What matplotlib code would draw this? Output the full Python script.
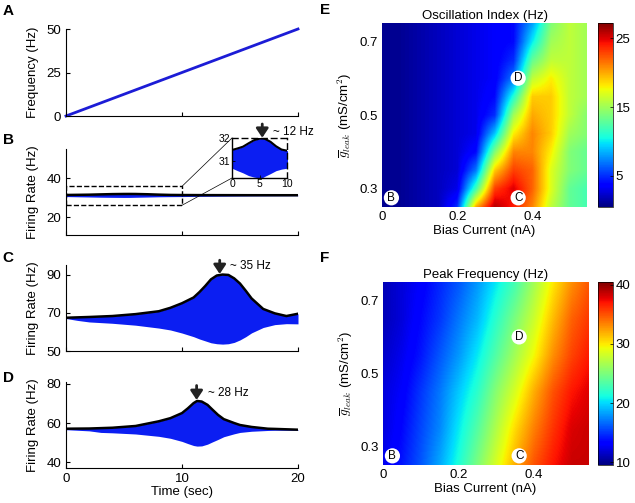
import numpy as np
import matplotlib
matplotlib.use('Agg')
import matplotlib.pyplot as plt
from matplotlib.patches import ConnectionPatch

plt.rcParams['font.family'] = ['Liberation Sans', 'DejaVu Sans']
plt.rcParams['mathtext.fontset'] = 'cm'

# ---- panel A: stimulus frequency sweep
a_time = [0, 20]
a_freq = [0, 50]

# ---- panel B: firing rate envelope (small oscillation, ~12 Hz peak)
b_time = [0, 1, 2, 3, 4, 5, 5.5, 6, 7, 8, 9, 10, 12, 14, 16, 18, 20]
b_upper = [31.48, 31.55, 31.63, 31.78, 31.92, 31.99, 32.0, 31.98, 31.85, 31.65,
           31.5, 31.45, 31.4, 31.38, 31.36, 31.35, 31.35]
b_lower = [30.66, 30.55, 30.45, 30.33, 30.26, 30.22, 30.23, 30.3, 30.42, 30.55,
           30.62, 30.66, 30.8, 30.9, 31.0, 31.05, 31.1]

# ---- panel C
c_time = [0, 1, 2, 4, 6, 8, 9, 10, 11, 11.5, 12, 12.5, 13, 13.5, 14, 14.5, 15,
          15.5, 16, 17, 18, 19, 20]
c_upper = [67.4, 67.6, 67.8, 68.3, 69.3, 70.8, 72.6, 75.0, 78.0, 80.8, 84.0,
           87.5, 89.5, 90.0, 89.8, 88.0, 85.3, 81.5, 77.5, 72.0, 69.7, 68.3, 69.5]
c_lower = [67.0, 66.0, 65.2, 64.5, 63.5, 62.0, 61.0, 59.4, 57.5, 56.3, 55.3,
           54.3, 53.8, 53.6, 53.8, 54.5, 55.8, 57.5, 59.5, 62.3, 63.8, 64.3, 64.2]

# ---- panel D
d_time = [0, 2, 3, 4, 6, 8, 9, 10, 10.5, 11, 11.3, 11.7, 12.2, 12.6, 13.1, 13.6,
          14.5, 15, 16, 17.4, 18, 20]
d_upper = [57.1, 57.2, 57.4, 57.6, 58.5, 60.9, 62.5, 65.1, 67.5, 70.2, 71.3, 71.0,
           69.3, 67.0, 64.2, 62.0, 60.0, 59.0, 58.0, 57.1, 57.0, 56.6]
d_lower = [56.6, 56.0, 55.2, 55.0, 54.4, 53.2, 52.2, 50.6, 49.5, 48.5, 48.2, 48.3,
           49.2, 50.3, 51.6, 53.0, 54.5, 55.2, 55.8, 56.2, 56.3, 56.3]

# ---- panels E/F: parameter maps
bias_current = [0.00, 0.05, 0.10, 0.15, 0.20, 0.25, 0.30, 0.35, 0.40, 0.45, 0.50, 0.55]
g_leak_e = [0.25, 0.30, 0.35, 0.40, 0.45, 0.50, 0.55, 0.60, 0.65, 0.70, 0.75]
osc_index = [
    [1, 1, 1.5, 2, 5, 20, 26, 24, 21, 16, 13, 12],
    [1, 1, 1.5, 2, 3, 12, 23, 25, 22, 17, 13, 12],
    [1, 1, 1.5, 2, 2.5, 7, 19, 23, 22, 17, 14, 13],
    [1, 1, 1.5, 2, 2.5, 4, 14, 21, 21, 18, 14, 13],
    [1, 1, 1.5, 2, 2.5, 3, 9, 18, 21, 19, 15, 14],
    [1, 1, 1.5, 2, 2.5, 3, 5, 15, 20, 19, 16, 14],
    [1, 1, 1.5, 2, 2.5, 3, 4, 11, 19, 19, 16, 15],
    [1, 1, 1.5, 2, 2.5, 3, 3.5, 7, 16, 18, 16, 15],
    [1, 1, 1.5, 2, 2.5, 3, 3.5, 5, 13, 16, 16, 15],
    [1, 1, 1.5, 2, 2.5, 3, 3.5, 4, 10, 15, 16, 15],
    [1, 1, 1.5, 2, 2.5, 3, 3.5, 4, 8, 14, 16, 15],
]
g_leak_f = [0.25, 0.35, 0.45, 0.55, 0.65, 0.75]
peak_freq = [
    [12.5, 14, 16, 18.5, 21.5, 25, 28.5, 32, 35, 37, 38.5, 38.5],
    [12, 13.5, 15.5, 17.5, 20.5, 23.5, 27, 30.5, 33.5, 36, 38, 38.5],
    [12, 13, 15, 17, 19.5, 22, 25.5, 28.5, 32, 35, 37, 38],
    [11.5, 12.5, 14, 16, 18, 20.5, 23.5, 26.5, 29.5, 33, 35.5, 37],
    [11, 12, 13.5, 15, 17, 19, 22, 25, 28, 31.5, 34.5, 36],
    [11, 12, 13, 14.5, 16, 18, 20.5, 23, 26.5, 30, 33, 35],
]
marker_labels = ['B', 'C', 'D']
marker_x = [0.025, 0.362, 0.362]
marker_y = [0.275, 0.275, 0.60]

line_blue = '#1c1cd6'
fill_blue = '#0b1ef2'
FS = 9.5

fig = plt.figure(figsize=(6.35, 5.03), dpi=100)


def px_rect(x0, y0, x1, y1):
    W, H = 635.0, 503.0
    return [x0 / W, 1 - y1 / H, (x1 - x0) / W, (y1 - y0) / H]


def style_trace(ax):
    for s in ['top', 'right']:
        ax.spines[s].set_visible(False)
    ax.tick_params(direction='in', length=3, width=0.8, labelsize=FS)
    ax.set_xlim(0, 20)
    ax.set_xticks([0, 10, 20])
    ax.yaxis.set_label_coords(-0.115, 0.5)


def arrow(ax, x, y_tip, y_tail):
    ax.annotate('', xy=(x, y_tip), xytext=(x, y_tail),
                arrowprops=dict(arrowstyle='-|>,head_length=0.45,head_width=0.3',
                                color='#222222', lw=2, mutation_scale=12,
                                shrinkA=0, shrinkB=0),
                annotation_clip=False)


# A
axA = fig.add_axes(px_rect(66, 29, 298, 116))
axA.plot(a_time, a_freq, color=line_blue, lw=2, clip_on=False)
style_trace(axA)
axA.set_ylim(0, 50)
axA.set_yticks([0, 25, 50])
axA.set_xticklabels([])
axA.set_ylabel('Frequency (Hz)', fontsize=FS)

# B
axB = fig.add_axes(px_rect(66, 149, 298, 235))
axB.fill_between(b_time, b_lower, b_upper, color=fill_blue, lw=0)
axB.plot(b_time, b_upper, color='black', lw=1.8)
axB.plot([0, 10, 10, 0, 0], [26.2, 26.2, 35.9, 35.9, 26.2], 'k--', lw=1)
style_trace(axB)
axB.set_ylim(11, 55)
axB.set_yticks([20, 40])
axB.set_xticklabels([])
axB.set_ylabel('Firing Rate (Hz)', fontsize=FS)

axI = fig.add_axes(px_rect(232, 138, 287, 178))
axI.fill_between(b_time, b_lower, b_upper, color=fill_blue, lw=0)
axI.plot(b_time, b_upper, color='black', lw=1.5)
axI.set_xlim(0, 10)
axI.set_ylim(30.22, 32.02)
axI.set_xticks([0, 5, 10])
axI.set_yticks([31, 32])
axI.tick_params(direction='in', length=2, width=0.6, labelsize=7.5, pad=1)
axI.spines['top'].set_linestyle((0, (4, 3)))
axI.spines['right'].set_linestyle((0, (4, 3)))
for s in axI.spines.values():
    s.set_linewidth(1)
arrow(axI, 5.5, 32.03, 32.65)
axI.text(7.5, 32.3, '~ 12 Hz', fontsize=8.5, va='center', ha='left', clip_on=False)

for (bx, by), (ix, iy) in [((10, 35.9), (0, 1)), ((10, 26.2), (0, 0))]:
    con = ConnectionPatch(xyA=(bx, by), coordsA=axB.transData,
                          xyB=(ix, iy), coordsB=axI.transAxes, color='black', lw=0.5)
    fig.add_artist(con)

# C
axC = fig.add_axes(px_rect(66, 265, 298, 351))
axC.fill_between(c_time, c_lower, c_upper, color=fill_blue, lw=0)
axC.plot(c_time, c_upper, color='black', lw=1.8)
style_trace(axC)
axC.set_ylim(50, 95)
axC.set_yticks([50, 70, 90])
axC.set_xticklabels([])
axC.set_ylabel('Firing Rate (Hz)', fontsize=FS)
arrow(axC, 13.25, 90.3, 97.5)
axC.text(14.1, 94.3, '~ 35 Hz', fontsize=8.5, va='center', ha='left', clip_on=False)

# D
axD = fig.add_axes(px_rect(66, 382, 298, 468))
axD.fill_between(d_time, d_lower, d_upper, color=fill_blue, lw=0)
axD.plot(d_time, d_upper, color='black', lw=1.8)
style_trace(axD)
axD.set_ylim(37, 81)
axD.set_yticks([40, 60, 80])
axD.set_ylabel('Firing Rate (Hz)', fontsize=FS)
axD.set_xlabel('Time (sec)', fontsize=FS, labelpad=1)
arrow(axD, 11.26, 71.8, 79.2)
axD.text(12.2, 75.4, '~ 28 Hz', fontsize=8.5, va='center', ha='left', clip_on=False)


def draw_map(rect, cbar_rect, z, ys, vmin, vmax, cticks, title):
    ax = fig.add_axes(rect)
    dx = bias_current[1] - bias_current[0]
    dy = ys[1] - ys[0]
    im = ax.imshow(np.array(z), origin='lower', cmap='jet', vmin=vmin, vmax=vmax,
                   aspect='auto', interpolation='bilinear', interpolation_stage='data',
                   extent=(bias_current[0] - dx / 2, bias_current[-1] + dx / 2,
                           ys[0] - dy / 2, ys[-1] + dy / 2))
    ax.set_xlim(0, 0.545)
    ax.set_ylim(0.25, 0.75)
    ax.set_xticks([0, 0.2, 0.4])
    ax.set_xticklabels(['0', '0.2', '0.4'])
    ax.set_yticks([0.3, 0.5, 0.7])
    ax.tick_params(length=0, labelsize=FS, pad=3)
    for s in ax.spines.values():
        s.set_visible(False)
    ax.set_xlabel('Bias Current (nA)', fontsize=FS, labelpad=1)
    ax.set_ylabel(r'$\overline{g}_{leak}$ (mS/cm$^{\mathsf{2}}$)', fontsize=FS)
    ax.yaxis.set_label_coords(-0.135, 0.5)
    ax.set_title(title, fontsize=FS, pad=3)
    for lab, mx, my in zip(marker_labels, marker_x, marker_y):
        ax.scatter([mx], [my], s=120, color='white', edgecolors='none', zorder=3)
        ax.text(mx, my, lab, fontsize=8.5, ha='center', va='center', zorder=4)
    cax = fig.add_axes(cbar_rect)
    cb = fig.colorbar(im, cax=cax, ticks=cticks)
    cb.outline.set_linewidth(0.5)
    cax.tick_params(direction='in', length=2, width=0.5, labelsize=FS, pad=2)
    return ax


axE = draw_map(px_rect(382, 23, 587, 207), px_rect(598, 23, 613, 207),
               osc_index, g_leak_e, 0.5, 27.2, [5, 15, 25], 'Oscillation Index (Hz)')
axF = draw_map(px_rect(383, 282, 588, 465), px_rect(598, 282, 613, 465),
               peak_freq, g_leak_f, 9.5, 40.5, [10, 20, 30, 40], 'Peak Frequency (Hz)')

# panel letters
for lab, x, y in [('A', 8, 11), ('B', 8, 140), ('C', 8, 258), ('D', 8, 378),
                  ('E', 325, 10), ('F', 325, 258)]:
    fig.text(x / 635, 1 - y / 503, lab, fontsize=11, fontweight='bold',
             ha='center', va='center')

plt.savefig('out.png', dpi=100)
